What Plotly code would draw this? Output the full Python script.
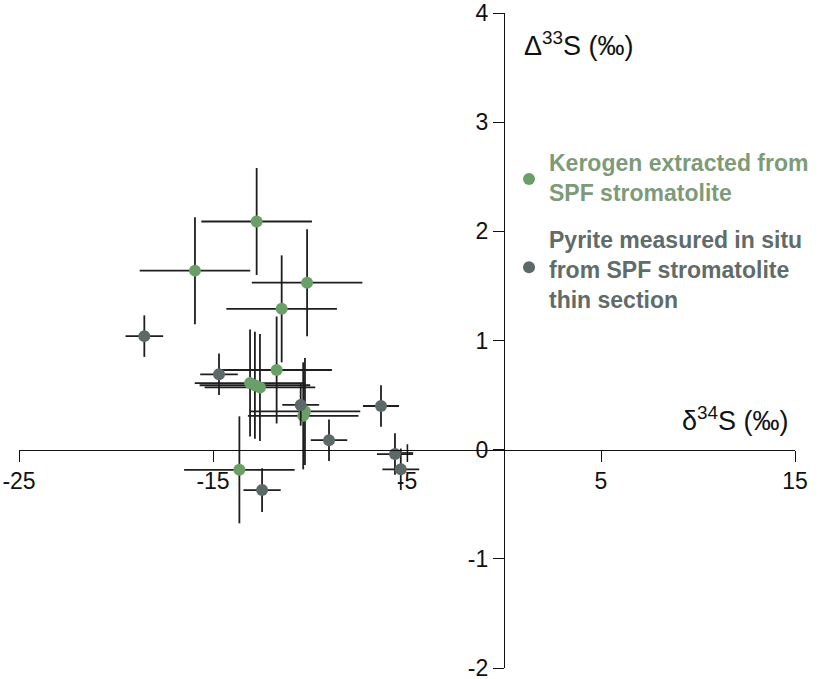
import plotly.graph_objects as go

# Kerogen extracted from SPF stromatolite (delta34S, Delta33S)
kerogen_d34 = [-12.75, -15.93, -10.15, -11.46, -11.72, -13.09, -12.84, -12.58, -10.26, -10.35, -13.64]
kerogen_D33 = [2.09, 1.64, 1.53, 1.29, 0.73, 0.61, 0.59, 0.57, 0.35, 0.31, -0.185]
kerogen_err_x = [2.85] * 11
kerogen_err_y = [0.49] * 11

# Pyrite measured in situ
pyrite_d34 = [-18.54, -14.69, -10.48, -9.02, -6.34, -5.62, -5.32, -12.47]
pyrite_D33 = [1.04, 0.69, 0.41, 0.087, 0.40, -0.04, -0.18, -0.37]
pyrite_err_x = [0.97, 0.97, 0.95, 0.94, 0.93, 0.93, 0.95, 0.96]
pyrite_err_y = [0.19, 0.19, 0.19, 0.19, 0.19, 0.19, 0.19, 0.2]

# analysis visible only by its error cross
extra_d34 = [-4.98]
extra_D33 = [-0.03]
extra_err_x = [0.3]
extra_err_y = [0.08]

x_ticks = [-25, -15, -5, 5, 15]
x_ticktext = ["-25", "-15", "-5", "5", "15"]
y_ticks = [-2, -1, 0, 1, 2, 3, 4]
y_ticktext = ["-2", "-1", "0", "1", "2", "3", "4"]

GREEN = "#6a9f68"
GRAY = "#5b6a68"
GREEN_TXT = "#7d9b78"
GRAY_TXT = "#5f6c6a"
BAR = "#1e1e1e"
FONT = "Liberation Sans, Arial, sans-serif"

fig = go.Figure()

fig.add_trace(go.Scatter(
    x=kerogen_d34, y=kerogen_D33, mode="markers",
    marker=dict(size=12, color=GREEN),
    error_x=dict(type="data", array=kerogen_err_x, color=BAR, thickness=1.8, width=0),
    error_y=dict(type="data", array=kerogen_err_y, color=BAR, thickness=1.8, width=0),
    showlegend=False, hoverinfo="skip",
))
fig.add_trace(go.Scatter(
    x=pyrite_d34, y=pyrite_D33, mode="markers",
    marker=dict(size=12, color=GRAY),
    error_x=dict(type="data", array=pyrite_err_x, color=BAR, thickness=1.8, width=0),
    error_y=dict(type="data", array=pyrite_err_y, color=BAR, thickness=1.8, width=0),
    showlegend=False, hoverinfo="skip",
))
fig.add_trace(go.Scatter(
    x=extra_d34, y=extra_D33, mode="markers",
    marker=dict(size=4, color=GRAY, opacity=0),
    error_x=dict(type="data", array=extra_err_x, color=BAR, thickness=1.6, width=0),
    error_y=dict(type="data", array=extra_err_y, color=BAR, thickness=1.6, width=0),
    showlegend=False, hoverinfo="skip",
))

axis_common = dict(
    showgrid=False, zeroline=False, showline=True, linecolor="#111111", linewidth=1.3,
    ticks="outside", ticklen=11, tickwidth=1.3, tickcolor="#111111",
    tickfont=dict(family=FONT, size=23, color="#111111"),
    anchor="free", automargin=False, ticklabeloverflow="allow",
)

fig.update_layout(
    width=819, height=679,
    margin=dict(l=19, r=24, t=13, b=11, autoexpand=False),
    paper_bgcolor="white", plot_bgcolor="white",
    xaxis=dict(range=[-25, 15], tickmode="array", tickvals=x_ticks, ticktext=x_ticktext,
               position=2 / 6, side="bottom", **axis_common),
    yaxis=dict(range=[-2, 4], tickmode="array", tickvals=y_ticks, ticktext=y_ticktext,
               position=25 / 40, side="left", **axis_common),
    font=dict(family=FONT),
)

annotations = [
    dict(text="Δ<sup>33</sup>S (‰)", x=0.95, y=3.72, xref="x", yref="y",
         xanchor="left", yanchor="middle", showarrow=False,
         font=dict(family=FONT, size=27, color="#111111")),
    dict(text="δ<sup>34</sup>S (‰)", x=14.8, y=0.28, xref="x", yref="y",
         xanchor="right", yanchor="middle", showarrow=False,
         font=dict(family=FONT, size=27, color="#111111")),
    dict(text="<b>Kerogen extracted from<br>SPF stromatolite</b>", x=2.2, y=2.49, xref="x", yref="y",
         xanchor="left", yanchor="middle", align="left", showarrow=False,
         font=dict(family=FONT, size=23, color=GREEN_TXT)),
    dict(text="<b>Pyrite measured in situ<br>from SPF stromatolite<br>thin section</b>", x=2.2, y=1.65,
         xref="x", yref="y", xanchor="left", yanchor="middle", align="left", showarrow=False,
         font=dict(family=FONT, size=23, color=GRAY_TXT)),
]
fig.update_layout(annotations=annotations)

for cy, col in [(2.48, GREEN), (1.67, GRAY)]:
    fig.add_shape(type="circle", xref="x", yref="y", xsizemode="pixel", ysizemode="pixel",
                  xanchor=1.29, yanchor=cy, x0=-6, x1=6, y0=-6, y1=6,
                  fillcolor=col, line=dict(width=0))

fig.write_html("out.html", config={"displayModeBar": False},
               post_script="document.body.style.margin='0';")
